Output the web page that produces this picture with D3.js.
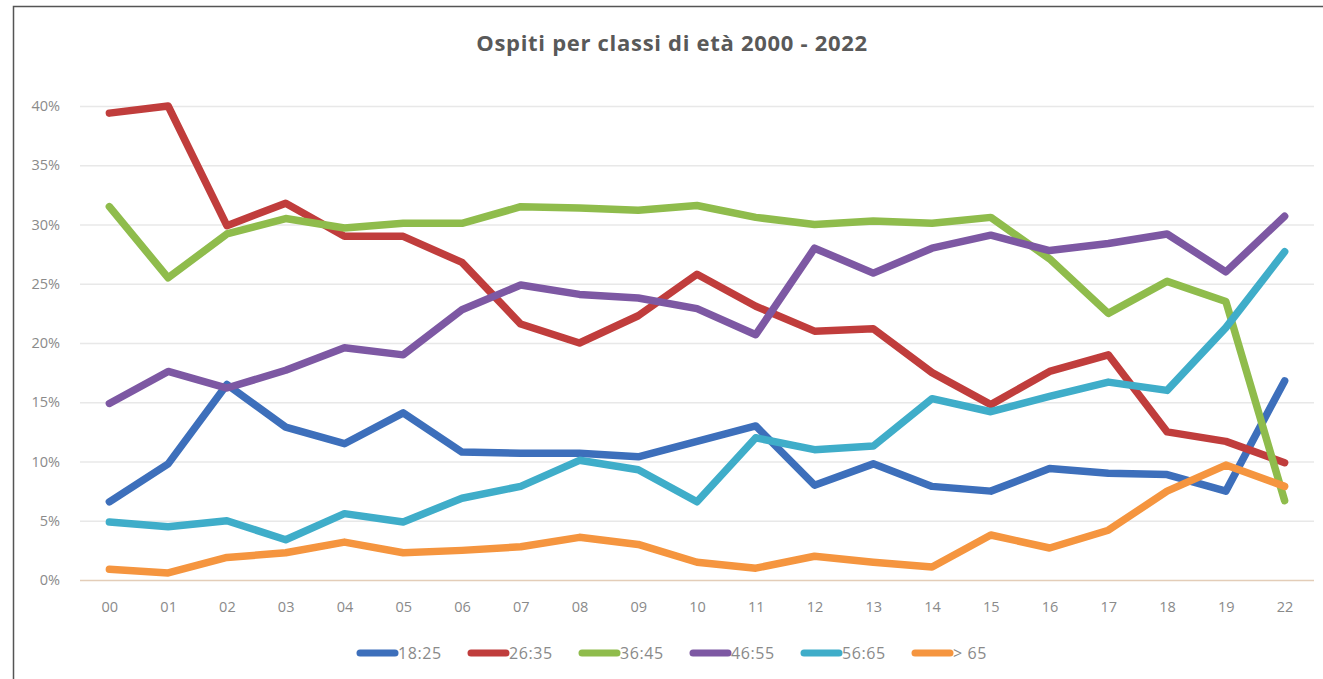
<!DOCTYPE html>
<html>
<head>
<meta charset="utf-8">
<script src="https://cdn.jsdelivr.net/npm/d3@7"></script>
<style>
  body { margin: 0; background: #fff; }
  svg text { font-family: "Open Sans", "Liberation Sans", sans-serif; }
</style>
</head>
<body>
<svg id="chart"></svg>
<script>
// categories (years)
var years = ["00","01","02","03","04","05","06","07","08","09","10","11","12","13","14","15","16","17","18","19","22"];

// percentages per age class
var s1825 = [6.6, 9.8, 16.5, 12.9, 11.5, 14.1, 10.8, 10.7, 10.7, 10.4, 11.7, 13.0, 8.0, 9.8, 7.9, 7.5, 9.4, 9.0, 8.9, 7.5, 16.8];
var s2635 = [39.4, 40.0, 29.9, 31.8, 29.0, 29.0, 26.8, 21.6, 20.0, 22.3, 25.8, 23.1, 21.0, 21.2, 17.5, 14.8, 17.6, 19.0, 12.5, 11.7, 9.9];
var s3645 = [31.5, 25.5, 29.2, 30.5, 29.7, 30.1, 30.1, 31.5, 31.4, 31.2, 31.6, 30.6, 30.0, 30.3, 30.1, 30.6, 27.1, 22.5, 25.2, 23.5, 6.7];
var s4655 = [14.9, 17.6, 16.2, 17.7, 19.6, 19.0, 22.8, 24.9, 24.1, 23.8, 22.9, 20.7, 28.0, 25.9, 28.0, 29.1, 27.8, 28.4, 29.2, 26.0, 30.7];
var s5665 = [4.9, 4.5, 5.0, 3.4, 5.6, 4.9, 6.9, 7.9, 10.1, 9.3, 6.6, 12.0, 11.0, 11.3, 15.3, 14.2, 15.5, 16.7, 16.0, 21.3, 27.7];
var s65 = [0.9, 0.6, 1.9, 2.3, 3.2, 2.3, 2.5, 2.8, 3.6, 3.0, 1.5, 1.0, 2.0, 1.5, 1.1, 3.8, 2.7, 4.2, 7.5, 9.7, 7.9];

var seriesNames = ["18:25", "26:35", "36:45", "46:55", "56:65", "> 65"];
var seriesColors = ["#3d6fbb", "#c03d3c", "#8fbc4c", "#7d58a3", "#3fadc9", "#f5953f"];
var yTicks = [0, 5, 10, 15, 20, 25, 30, 35, 40];

var series = [s1825, s2635, s3645, s4655, s5665, s65].map(function(v, i) {
  return { name: seriesNames[i], color: seriesColors[i], values: v };
});

var width = 1323, height = 679;
var margin = { top: 106, right: 9, bottom: 99, left: 80 };

var svg = d3.select("#chart")
    .attr("width", width)
    .attr("height", height);

// frame (left and top edges only)
svg.append("path")
    .attr("d", "M13.5," + height + "V6.5H" + width)
    .attr("fill", "none")
    .attr("stroke", "#555")
    .attr("stroke-width", 1.5);

var x = d3.scalePoint()
    .domain(years)
    .range([margin.left, width - margin.right])
    .padding(0.5);

var y = d3.scaleLinear()
    .domain([0, 40])
    .range([height - margin.bottom, margin.top]);

// title
svg.append("text")
    .attr("x", 672)
    .attr("y", 51)
    .attr("text-anchor", "middle")
    .style("font-size", "22px")
    .style("font-weight", "bold")
    .style("letter-spacing", "0.7px")
    .style("fill", "#595959")
    .text("Ospiti per classi di età 2000 - 2022");

// grid + y labels
var yAxis = d3.axisLeft(y)
    .tickValues(yTicks)
    .tickSize(-(width - margin.left - margin.right))
    .tickPadding(20)
    .tickFormat(function(d) { return d + "%"; });

var gy = svg.append("g")
    .attr("transform", "translate(" + margin.left + ",0)")
    .call(yAxis);
gy.select(".domain").remove();
gy.selectAll(".tick line")
    .attr("stroke", function(d) { return d === 0 ? "#e3cdb8" : "#e8e8e8"; })
    .attr("stroke-width", 1.5);
gy.selectAll(".tick text")
    .style("font-size", "14.5px")
    .style("fill", "#8a8a8a");

// x labels
var xAxis = d3.axisBottom(x).tickSize(0).tickPadding(22);
var gx = svg.append("g")
    .attr("transform", "translate(0," + y(0) + ")")
    .call(xAxis);
gx.select(".domain").remove();
gx.selectAll(".tick text")
    .style("font-size", "14.5px")
    .style("fill", "#8a8a8a");

// lines
var line = d3.line()
    .x(function(d, i) { return x(years[i]); })
    .y(function(d) { return y(d); });

svg.append("g").selectAll("path")
    .data(series)
  .enter().append("path")
    .attr("d", function(d) { return line(d.values); })
    .attr("fill", "none")
    .attr("stroke", function(d) { return d.color; })
    .attr("stroke-width", 7.5)
    .attr("stroke-linejoin", "round")
    .attr("stroke-linecap", "round");

// legend
var lg = svg.append("g")
    .attr("transform", "translate(357,653)");

var item = lg.selectAll("g")
    .data(series)
  .enter().append("g")
    .attr("transform", function(d, i) { return "translate(" + (i * 111) + ",0)"; });

item.append("line")
    .attr("x1", 3).attr("x2", 38)
    .attr("y1", 0).attr("y2", 0)
    .attr("stroke", function(d) { return d.color; })
    .attr("stroke-width", 7)
    .attr("stroke-linecap", "round");

item.append("text")
    .attr("x", 41)
    .attr("y", 5.5)
    .style("font-size", "16px")
    .style("letter-spacing", "0.6px")
    .style("fill", "#8a8a8a")
    .text(function(d) { return d.name; });
</script>
</body>
</html>
